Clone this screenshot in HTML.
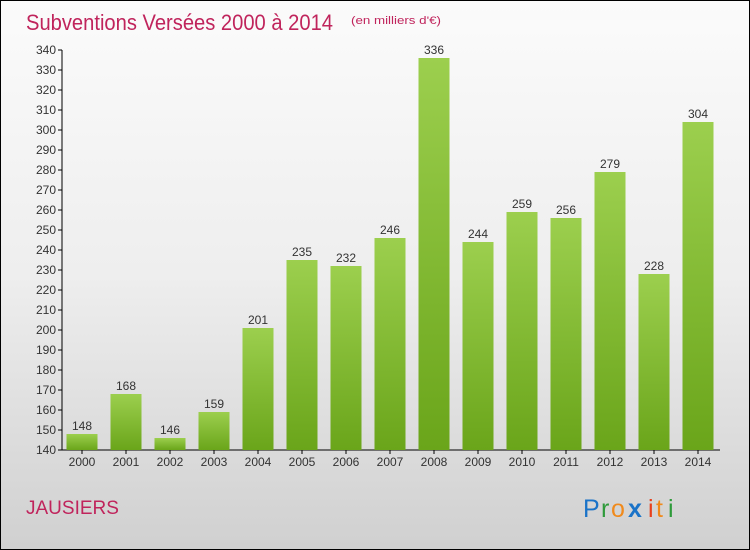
<!DOCTYPE html>
<html><head><meta charset="utf-8"><style>
body{margin:0}
#c{width:750px;height:550px;position:relative;box-sizing:border-box;border:1px solid #000;background:linear-gradient(#fbfbfb 0%,#eeeeee 50%,#d0d0d0 100%);font-family:"Liberation Sans",sans-serif;overflow:hidden}
</style></head><body>
<div id="c">
<svg width="750" height="550" style="position:absolute;left:-1px;top:-1px">
<defs><linearGradient id="g" x1="0" y1="0" x2="0" y2="1"><stop offset="0" stop-color="#9ccf4e"/><stop offset="1" stop-color="#6aa51a"/></linearGradient></defs>
<text x="26" y="30" font-size="22" fill="#c0245c" textLength="307" lengthAdjust="spacingAndGlyphs">Subventions Versées 2000 à 2014</text>
<text x="351" y="24" font-size="11" fill="#c0245c" textLength="90" lengthAdjust="spacingAndGlyphs">(en milliers d'€)</text>
<text x="26" y="514" font-size="19" fill="#c0245c">JAUSIERS</text>
<g id="logo" font-size="25">
<text x="583" y="517" fill="#1a73c8">P</text><text x="601" y="517" fill="#2e9a3a">r</text><text x="611" y="517" fill="#f08a1c">o</text><text x="628" y="517" fill="#1a73c8" font-weight="bold">x</text><text x="648" y="517" fill="#e8401c">i</text><text x="656" y="517" fill="#f08a1c">t</text><text x="668" y="517" fill="#2e9a3a">i</text></g>
<g id="axes"></g><g id="bars"></g>
</svg></div>
<script>
const years=["2000","2001","2002","2003","2004","2005","2006","2007","2008","2009","2010","2011","2012","2013","2014"];
const values=[148,168,146,159,201,235,232,246,336,244,259,256,279,228,304];
const yTicks=[140,150,160,170,180,190,200,210,220,230,240,250,260,270,280,290,300,310,320,330,340];
const NS="http://www.w3.org/2000/svg";
function y(v){return 450-(v-140)*2;}
function x(i){return 82+i*44;}
function mk(t,a,p){const e=document.createElementNS(NS,t);for(const k in a)e.setAttribute(k,a[k]);p.appendChild(e);return e;}
const ax=document.getElementById('axes'),bs=document.getElementById('bars');
const yl=mk('line',{x1:62,y1:50,x2:62,y2:450,stroke:'#000'},ax);


const xl=mk('line',{x1:62,y1:450,x2:720,y2:450,stroke:'#000'},ax);


yTicks.forEach(v=>{
 mk('line',{x1:58,y1:y(v),x2:62,y2:y(v),stroke:'#000'},ax);
 const t=mk('text',{x:56,y:y(v)+4,'font-size':12,'text-anchor':'end',fill:'#333'},ax);t.textContent=v;
 
 
});
years.forEach((yr,i)=>{
 const v=values[i];
 const r=mk('rect',{x:x(i)-15.5,y:y(v),width:31,height:450-y(v),fill:'url(#g)'},bs);
 
 
 const l=mk('text',{x:x(i),y:y(v)-4,'font-size':12,'text-anchor':'middle',fill:'#333'},bs);l.textContent=v;
 
 
 mk('line',{x1:x(i),y1:450,x2:x(i),y2:454,stroke:'#000'},ax);
 const t=mk('text',{x:x(i),y:466,'font-size':12,'text-anchor':'middle',fill:'#333'},ax);t.textContent=yr;
 
 
});
</script>
</body></html>
